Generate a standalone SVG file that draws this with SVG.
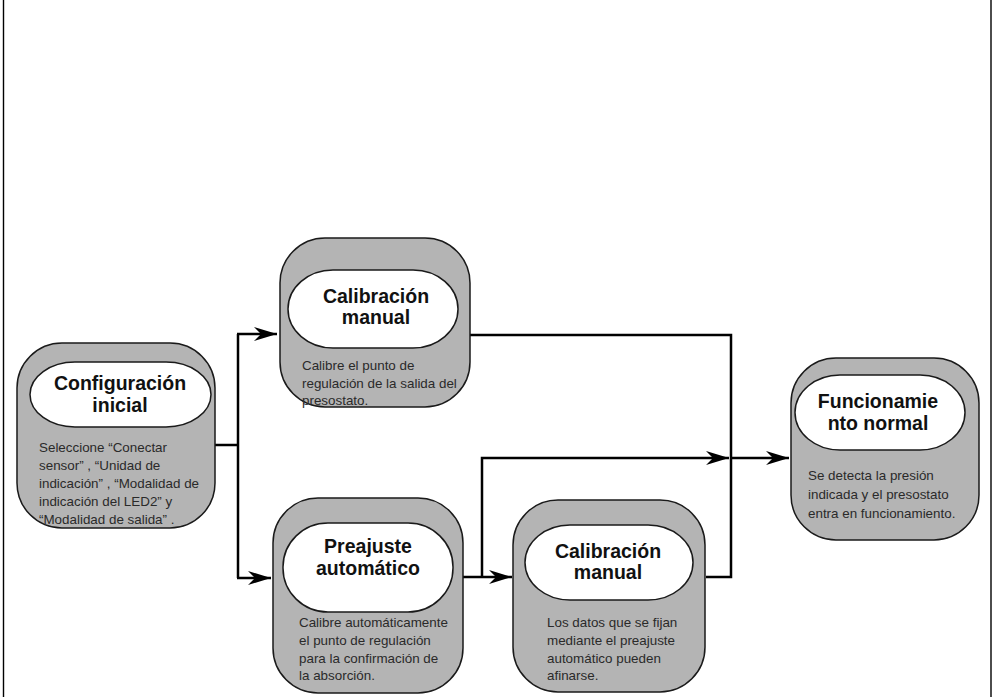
<svg xmlns="http://www.w3.org/2000/svg" width="992" height="697" viewBox="0 0 992 697">
  <style>
    .outer { fill: #b4b4b4; stroke: #1a1a1a; stroke-width: 1.5; }
    .inner { fill: #ffffff; stroke: #1a1a1a; stroke-width: 1.5; }
    .title { font-family: "Liberation Sans", Arial, sans-serif; font-weight: bold; font-size: 19.5px; fill: #111; text-anchor: middle; }
    .desc { font-family: "Liberation Sans", Arial, sans-serif; font-size: 13.4px; fill: #2a2a2a; }
    .wire { fill: none; stroke: #000; stroke-width: 2.5; }
    .frame { stroke: #000; stroke-width: 1.4; }
  </style>
  <defs>
    <marker id="arrow" markerUnits="userSpaceOnUse" markerWidth="26" markerHeight="16" viewBox="-24 -8 26 16" refX="0" refY="0" orient="auto">
      <path d="M0,0 L-23,-7 L-16,0 L-23,7 Z" fill="#000"/>
    </marker>
  </defs>

  <rect width="992" height="697" fill="#fff"/>
  <!-- side rules of the page -->
  <line class="frame" x1="3.5" y1="0" x2="3.5" y2="697"/>
  <line class="frame" x1="991" y1="0" x2="991" y2="697"/>

  <!-- connectors -->
  <g id="connectors">
    <path class="wire" d="M215,445 H238"/>
    <path class="wire" d="M238,334 V578"/>
    <path class="wire" d="M237,334 H277" marker-end="url(#arrow)"/>
    <path class="wire" d="M237,578 H271" marker-end="url(#arrow)"/>
    <path class="wire" d="M470,335 H731 V577 H706"/>
    <path class="wire" d="M463,577 H512" marker-end="url(#arrow)"/>
    <path class="wire" d="M482,577 V458 H729" marker-end="url(#arrow)"/>
    <path class="wire" d="M731,458 H789" marker-end="url(#arrow)"/>
  </g>

  <!-- Configuración inicial -->
  <g id="configuracion-inicial">
    <rect class="outer" x="17" y="343" width="198" height="185" rx="45" ry="45"/>
    <rect class="inner" x="30" y="362" width="181" height="65" rx="45" ry="32.5"/>
    <text class="title" x="120" y="390">Configuración</text>
    <text class="title" x="120" y="412">inicial</text>
    <text class="desc" x="39" y="452">Seleccione “Conectar</text>
    <text class="desc" x="39" y="470">sensor” , “Unidad de</text>
    <text class="desc" x="39" y="488">indicación” , “Modalidad de</text>
    <text class="desc" x="39" y="506">indicación del LED2” y</text>
    <text class="desc" x="39" y="524">“Modalidad de salida” .</text>
  </g>

  <!-- Calibración manual (upper) -->
  <g id="calibracion-manual-1">
    <rect class="outer" x="280" y="238" width="190" height="169" rx="45" ry="45"/>
    <rect class="inner" x="288" y="270" width="170" height="78" rx="45" ry="39"/>
    <text class="title" x="376" y="303">Calibración</text>
    <text class="title" x="376" y="324">manual</text>
    <text class="desc" x="302" y="370">Calibre el punto de</text>
    <text class="desc" x="302" y="388">regulación de la salida del</text>
    <text class="desc" x="302" y="405">presostato.</text>
  </g>

  <!-- Preajuste automático -->
  <g id="preajuste-automatico">
    <rect class="outer" x="273" y="498" width="190" height="195" rx="45" ry="45"/>
    <rect class="inner" x="283" y="523" width="170" height="89" rx="45" ry="44"/>
    <text class="title" x="368" y="553">Preajuste</text>
    <text class="title" x="368" y="575">automático</text>
    <text class="desc" x="299" y="627">Calibre automáticamente</text>
    <text class="desc" x="299" y="645">el punto de regulación</text>
    <text class="desc" x="299" y="663">para la confirmación de</text>
    <text class="desc" x="299" y="680">la absorción.</text>
  </g>

  <!-- Calibración manual (lower) -->
  <g id="calibracion-manual-2">
    <rect class="outer" x="513" y="500" width="192" height="192" rx="45" ry="45"/>
    <rect class="inner" x="525" y="525" width="168" height="75" rx="45" ry="37.5"/>
    <text class="title" x="608" y="558">Calibración</text>
    <text class="title" x="608" y="579">manual</text>
    <text class="desc" x="547" y="627">Los datos que se fijan</text>
    <text class="desc" x="547" y="645">mediante el preajuste</text>
    <text class="desc" x="547" y="663">automático pueden</text>
    <text class="desc" x="547" y="680">afinarse.</text>
  </g>

  <!-- Funcionamiento normal -->
  <g id="funcionamiento-normal">
    <rect class="outer" x="791" y="358" width="188" height="182" rx="45" ry="45"/>
    <rect class="inner" x="795" y="375" width="170" height="75" rx="45" ry="37.5"/>
    <text class="title" x="878" y="408">Funcionamie</text>
    <text class="title" x="878" y="430">nto normal</text>
    <text class="desc" x="808" y="480">Se detecta la presión</text>
    <text class="desc" x="808" y="499">indicada y el presostato</text>
    <text class="desc" x="808" y="518">entra en funcionamiento.</text>
  </g>
</svg>
